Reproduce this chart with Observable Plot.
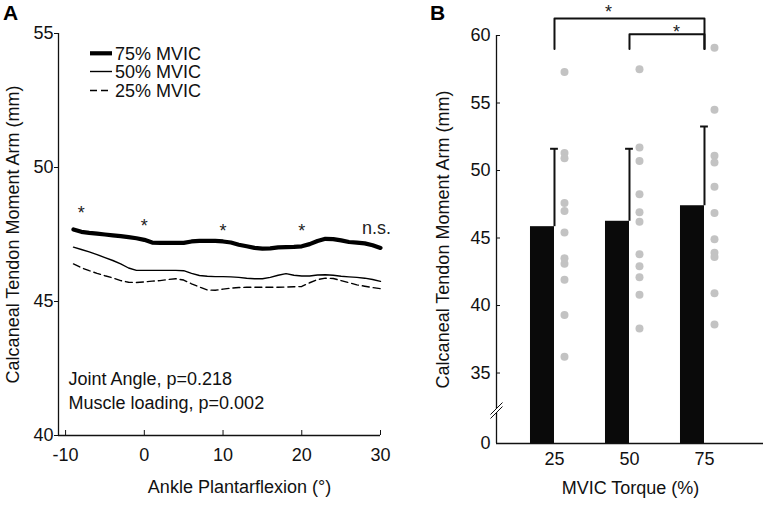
<!DOCTYPE html>
<html>
<head>
<meta charset="utf-8">
<script src="https://cdn.jsdelivr.net/npm/d3@7"></script>
<script src="https://cdn.jsdelivr.net/npm/@observablehq/plot@0.6"></script>
<style>
  body { margin: 0; background: #fff; }
  #wrap { position: relative; width: 774px; height: 505px; overflow: hidden; background: #fff;
          font-family: "Liberation Sans", Arial, Helvetica, sans-serif; }
  #wrap > svg { position: absolute; top: 0; }
</style>
</head>
<body>
<div id="wrap"></div>
<script>
// ---------------- Panel A data ----------------
const angles = [-9,-8,-7,-6,-5,-4,-3,-2,-1,0,1,2,3,4,5,6,7,8,9,10,11,12,13,14,15,16,17,18,19,20,21,22,23,24,25,26,27,28,29,30];
const mvic75 = [47.69,47.60,47.56,47.53,47.50,47.47,47.44,47.40,47.36,47.30,47.20,47.19,47.19,47.19,47.19,47.24,47.26,47.26,47.26,47.24,47.20,47.12,47.06,47.00,46.97,46.98,47.02,47.03,47.04,47.06,47.14,47.26,47.34,47.33,47.28,47.22,47.20,47.17,47.10,47.00];
const mvic50 = [47.03,46.94,46.85,46.75,46.64,46.53,46.40,46.25,46.16,46.16,46.16,46.16,46.16,46.16,46.15,46.05,45.97,45.94,45.93,45.93,45.92,45.90,45.87,45.85,45.85,45.90,45.98,46.04,45.98,45.95,45.95,45.99,46.00,45.98,45.94,45.92,45.90,45.87,45.82,45.75];
const mvic25 = [46.40,46.26,46.15,46.05,45.96,45.88,45.78,45.72,45.71,45.73,45.76,45.78,45.82,45.85,45.80,45.66,45.54,45.43,45.42,45.46,45.50,45.52,45.53,45.53,45.53,45.53,45.53,45.54,45.55,45.56,45.70,45.82,45.87,45.86,45.78,45.70,45.62,45.57,45.52,45.48];
const seriesNames = ["75% MVIC", "50% MVIC", "25% MVIC"];
const angleTicks = [-10, 0, 10, 20, 30];
const armTicksA = [40, 45, 50, 55];
const starAngles = [-8, 0, 10, 20];
const starLevels = [48.47, 47.96, 47.78, 47.78];
const nsAngle = [29.5];
const nsLevel = [47.70];
const statsLines = ["Joint Angle, p=0.218", "Muscle loading, p=0.002"];
const yTitle = "Calcaneal Tendon Moment Arm (mm)";
const xTitleA = "Ankle Plantarflexion (°)";

// ---------------- Panel B data ----------------
const torques = [25, 50, 75];
const meanArm = [45.84, 46.24, 47.39];
const sdArm = [5.77, 5.37, 5.87];
const subj25 = [57.3, 51.3, 50.9, 47.6, 47.0, 45.4, 43.5, 43.1, 41.9, 39.3, 36.2];
const subj50 = [57.5, 51.7, 50.7, 48.25, 46.9, 46.2, 43.8, 42.9, 42.1, 40.8, 38.3];
const subj75 = [59.1, 54.5, 51.1, 50.6, 48.8, 46.85, 44.9, 43.9, 43.6, 40.9, 38.6];
const armTicksB = [0, 35, 40, 45, 50, 55, 60];
const bracketFrom = [25, 50];
const bracketTo = [75, 75];
const bracketLevel = [61.25, 60.1];
const bracketFoot = [59.0, 59.0];
const bracketStarX = [43, 65.7];
const bracketStarY = [62.05, 60.6];
const xTitleB = "MVIC Torque (%)";

// ---------------- build ----------------
const FONT = '"Liberation Sans", Arial, Helvetica, sans-serif';
const wrap = document.getElementById("wrap");

const xDomainA = [-10.9, 30];
const yDomainA = [40, 55];
const rowsOf = (vals) => angles.map((a, i) => ({angle: a, arm: vals[i]}));
const stars = starAngles.map((a, i) => ({angle: a, arm: starLevels[i]}));
const ns = nsAngle.map((a, i) => ({angle: a, arm: nsLevel[i]}));

const plotA = Plot.plot({
  width: 400, height: 505,
  marginLeft: 58, marginRight: 20, marginTop: 33, marginBottom: 70,
  style: {fontFamily: FONT, fontSize: "18px", background: "transparent", color: "#111", overflow: "visible"},
  x: {domain: xDomainA},
  y: {domain: yDomainA},
  marks: [
    Plot.ruleX([xDomainA[0]], {stroke: "#111", strokeWidth: 1.3}),
    Plot.ruleY([yDomainA[0]], {stroke: "#111", strokeWidth: 1.3}),
    Plot.axisY(armTicksA, {tickSize: 4, tickPadding: 1, label: null, stroke: "#111"}),
    Plot.axisX(angleTicks, {tickSize: -5, tickPadding: 17.7, tickFormat: d => String(d), label: null, stroke: "#111"}),
    Plot.line(rowsOf(mvic25), {x: "angle", y: "arm", stroke: "#000", strokeWidth: 1.4, strokeDasharray: "7,4"}),
    Plot.line(rowsOf(mvic50), {x: "angle", y: "arm", stroke: "#000", strokeWidth: 1.4}),
    Plot.line(rowsOf(mvic75), {x: "angle", y: "arm", stroke: "#000", strokeWidth: 4.2, strokeLinejoin: "round"}),
    Plot.text(stars, {x: "angle", y: "arm", text: () => "*", dy: 4.5, fill: "#222"}),
    Plot.text(ns, {x: "angle", y: "arm", text: () => "n.s.", dy: -1, fill: "#222"}),
    Plot.text([statsLines.join("\n")], {frameAnchor: "bottom-left", dx: 10, dy: -27, textAnchor: "start", lineAnchor: "bottom", lineHeight: 1.3, fill: "#111"}),
    Plot.text([yTitle], {frameAnchor: "left", dx: -45.5, rotate: -90, textAnchor: "middle", lineAnchor: "middle", fill: "#111"}),
    Plot.text([xTitleA], {frameAnchor: "bottom", dx: 20, dy: 51.5, textAnchor: "middle", lineAnchor: "middle", fill: "#111"})
  ]
});
plotA.style.left = "0px";
wrap.appendChild(plotA);

// Panel B (broken y axis: 0..35 compressed below the break)
const xDomainB = [5.67, 94.67];
const BREAK_LOW = 29.78;   // where the value 0 sits on the compressed part
const yDomainB = [BREAK_LOW, 60];
const brokenAxis = v => v >= 35 ? v : BREAK_LOW + v * (35 - BREAK_LOW) / 35;
const BAR_W = 8;
const CAP = 1.3;
const bars = torques.map((t, i) => ({torque: t, mean: meanArm[i], sd: sdArm[i]}));
const dots = [subj25, subj50, subj75].flatMap((vals, i) => vals.map(v => ({torque: torques[i], arm: v})));
const bracketPts = bracketFrom.flatMap((f, i) => [
  {id: i, torque: f, arm: bracketFoot[i]},
  {id: i, torque: f, arm: bracketLevel[i]},
  {id: i, torque: bracketTo[i], arm: bracketLevel[i]},
  {id: i, torque: bracketTo[i], arm: bracketFoot[i]}
]);
const bracketStars = bracketStarX.map((x, i) => ({torque: x, arm: bracketStarY[i]}));

const breakFill = {draw(ctx) { ctx.moveTo(-6, 4); ctx.lineTo(6, -8); ctx.lineTo(6, -4); ctx.lineTo(-6, 8); ctx.closePath(); }};
const breakLines = {draw(ctx) { ctx.moveTo(-6, 4); ctx.lineTo(6, -8); ctx.moveTo(-6, 8); ctx.lineTo(6, -4); }};

const plotB = Plot.plot({
  width: 374, height: 505,
  marginLeft: 96, marginRight: 11, marginTop: 35, marginBottom: 62,
  style: {fontFamily: FONT, fontSize: "18px", background: "transparent", color: "#111", overflow: "visible"},
  x: {domain: xDomainB},
  y: {domain: yDomainB, transform: brokenAxis},
  marks: [
    Plot.rect(bars, {x1: d => d.torque - BAR_W, x2: "torque", y1: 0, y2: "mean", fill: "#0a0a0a"}),
    Plot.ruleX(bars, {x: "torque", y1: "mean", y2: d => d.mean + d.sd, stroke: "#111", strokeWidth: 2}),
    Plot.ruleY(bars, {y: d => d.mean + d.sd, x1: d => d.torque - CAP, x2: d => d.torque + CAP, stroke: "#111", strokeWidth: 2}),
    Plot.dot(dots, {x: "torque", y: "arm", dx: 10, r: 4, fill: "#c3c3c3", stroke: "none"}),
    Plot.line(bracketPts, {x: "torque", y: "arm", z: "id", stroke: "#111", strokeWidth: 2}),
    Plot.text(bracketStars, {x: "torque", y: "arm", text: () => "*", dy: 4.5, fill: "#222"}),
    Plot.ruleX([xDomainB[0]], {stroke: "#111", strokeWidth: 1.3}),
    Plot.ruleY([0], {stroke: "#111", strokeWidth: 1.3}),
    Plot.axisY(armTicksB, {tickSize: -4, tickPadding: 10, label: null, stroke: "#111"}),
    Plot.axisX(torques, {tickSize: 0, tickPadding: 9, label: null}),
    Plot.dot([0], {frameAnchor: "bottom-left", dy: -33, symbol: breakFill, fill: "white", stroke: "none"}),
    Plot.dot([0], {frameAnchor: "bottom-left", dy: -33, symbol: breakLines, fill: "none", stroke: "#111", strokeWidth: 1}),
    Plot.text([yTitle], {frameAnchor: "left", dx: -53, rotate: -90, textAnchor: "middle", lineAnchor: "middle", fill: "#111"}),
    Plot.text([xTitleB], {frameAnchor: "bottom", dx: 0.5, dy: 44.3, textAnchor: "middle", lineAnchor: "middle", fill: "#111"})
  ]
});
plotB.style.left = "400px";
wrap.appendChild(plotB);

// Overlay: panel letters and legend of panel A
const overlay = d3.create("svg").attr("width", 774).attr("height", 505)
  .style("left", "0px").style("pointer-events", "none")
  .style("font-family", FONT);
overlay.append("text").attr("x", 3).attr("y", 20).attr("font-size", 21).attr("font-weight", "bold").text("A");
overlay.append("text").attr("x", 430).attr("y", 19.5).attr("font-size", 21).attr("font-weight", "bold").text("B");
const legendKeys = [
  {w: 4.2, dash: null},
  {w: 1.4, dash: null},
  {w: 1.4, dash: "7,4"}
];
const legendY = [53.3, 71.5, 90.5];
seriesNames.forEach((name, i) => {
  const g = overlay.append("g");
  const ln = g.append("line").attr("x1", 90).attr("x2", 112).attr("y1", legendY[i]).attr("y2", legendY[i])
    .attr("stroke", "#000").attr("stroke-width", legendKeys[i].w);
  if (legendKeys[i].dash) ln.attr("stroke-dasharray", legendKeys[i].dash);
  g.append("text").attr("x", 115).attr("y", legendY[i]).attr("dy", "0.35em")
    .attr("font-size", 18).attr("fill", "#111").text(name);
});
wrap.appendChild(overlay.node());
</script>
</body>
</html>
